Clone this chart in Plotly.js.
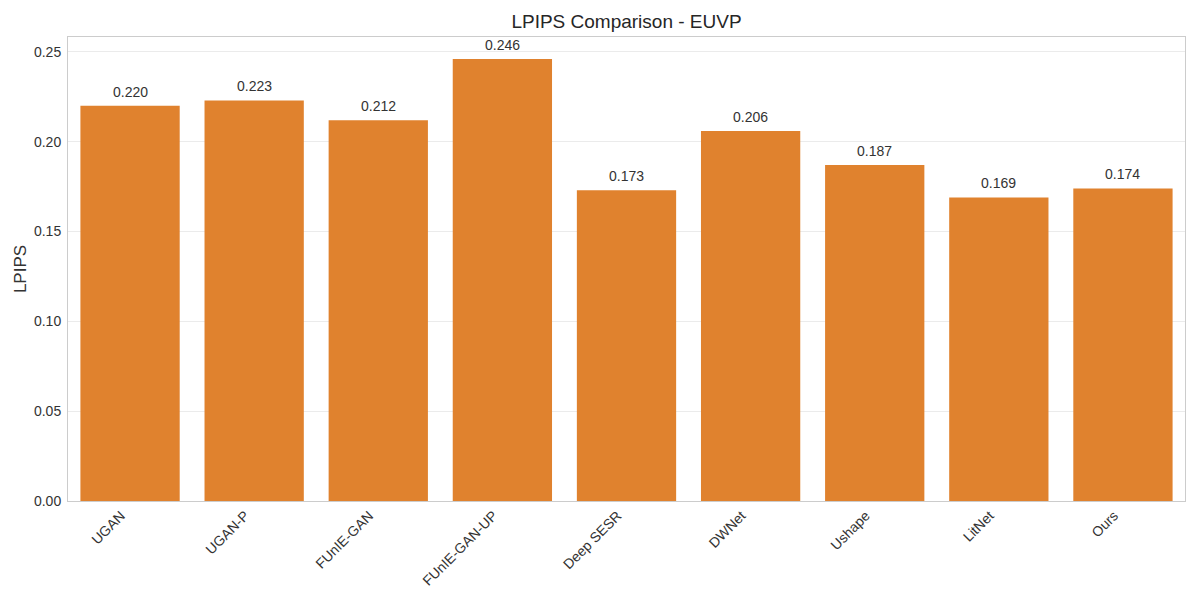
<!DOCTYPE html>
<html>
<head>
<meta charset="utf-8">
<script src="https://cdn.plot.ly/plotly-3.0.1.min.js"></script>
<style>
  html, body { margin: 0; padding: 0; background: #ffffff; }
  #chart { width: 1200px; height: 600px; }
</style>
</head>
<body>
<div id="chart"></div>
<script>
  // LPIPS scores on EUVP (lower is better)
  var methods = ['UGAN', 'UGAN-P', 'FUnIE-GAN', 'FUnIE-GAN-UP', 'Deep SESR',
                 'DWNet', 'Ushape', 'LitNet', 'Ours'];
  var lpips = [0.220, 0.223, 0.212, 0.246, 0.173, 0.206, 0.187, 0.169, 0.174];
  var yTicks = [0, 0.05, 0.10, 0.15, 0.20, 0.25];

  var FONT = 'Liberation Sans, Arial, sans-serif';
  var TEXT_COLOR = '#333333';

  var trace = {
    type: 'bar',
    x: methods,
    y: lpips,
    marker: { color: '#e0822e', line: { width: 0 } },
    hoverinfo: 'x+y'
  };

  // value labels sit a few px above each bar
  var labels = methods.map(function (m, i) {
    return {
      x: m,
      y: lpips[i],
      xref: 'x',
      yref: 'y',
      text: lpips[i].toFixed(3),
      showarrow: false,
      yanchor: 'bottom',
      yshift: 4,
      font: { family: FONT, size: 14, color: TEXT_COLOR }
    };
  });

  var layout = {
    width: 1200,
    height: 600,
    paper_bgcolor: '#ffffff',
    plot_bgcolor: '#ffffff',
    font: { family: FONT, size: 14, color: TEXT_COLOR },
    margin: { t: 37, r: 15, l: 68, b: 99 },
    bargap: 0.2,
    showlegend: false,
    annotations: labels,
    title: {
      text: 'LPIPS Comparison - EUVP',
      font: { family: FONT, size: 19, color: '#262626' },
      xref: 'paper',
      x: 0.5,
      xanchor: 'center',
      y: 0.965,
      yanchor: 'middle'
    },
    xaxis: {
      type: 'category',
      tickangle: -45,
      tickfont: { family: FONT, size: 14, color: TEXT_COLOR },
      ticklabelshift: -9,
      showgrid: false,
      showline: true,
      linecolor: '#cccccc',
      linewidth: 1,
      mirror: true,
      ticks: '',
      zeroline: false,
      range: [-0.5, 8.5]
    },
    yaxis: {
      title: { text: 'LPIPS', font: { family: FONT, size: 17, color: TEXT_COLOR }, standoff: 3 },
      range: [0, 0.2583],
      tickvals: yTicks,
      ticktext: yTicks.map(function (v) { return v.toFixed(2); }),
      tickfont: { family: FONT, size: 14, color: TEXT_COLOR },
      ticklabelstandoff: 3,
      showgrid: true,
      gridcolor: '#ebebeb',
      gridwidth: 1,
      showline: true,
      linecolor: '#cccccc',
      linewidth: 1,
      mirror: true,
      ticks: '',
      zeroline: false
    }
  };

  Plotly.newPlot('chart', [trace], layout, { displayModeBar: false, staticPlot: true });
</script>
</body>
</html>
